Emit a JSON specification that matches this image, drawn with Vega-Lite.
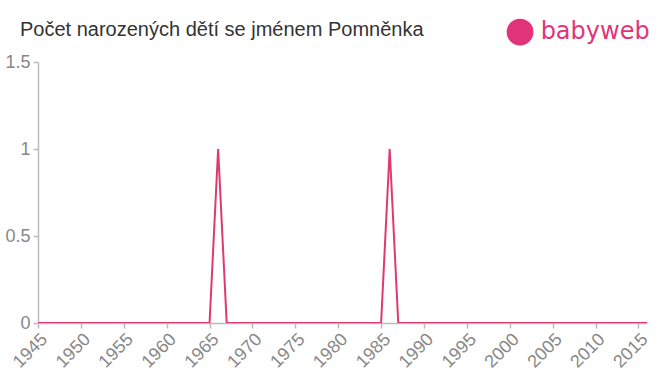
{
  "$schema": "https://vega.github.io/schema/vega-lite/v6.json",
  "width": 609,
  "height": 261,
  "autosize": {"type": "none"},
  "padding": {"left": 38, "top": 62, "right": 13, "bottom": 52},
  "background": "white",
  "config": {
    "view": {"stroke": null},
    "axis": {"labelFontSize": 18, "labelFont": "Liberation Sans", "labelColor": "#888888"}
  },
  "title": {"text": "Počet narozených dětí se jménem Pomněnka", "anchor": "start", "frame": "group", "dx": -18, "dy": 37, "offset": 0, "baseline": "alphabetic", "fontSize": 20, "fontWeight": "normal", "color": "#333333", "font": "Liberation Sans"},
  "datasets": {
    "births": [
      {"year": 1945, "count": 0}, {"year": 1946, "count": 0}, {"year": 1947, "count": 0}, {"year": 1948, "count": 0},
      {"year": 1949, "count": 0}, {"year": 1950, "count": 0}, {"year": 1951, "count": 0}, {"year": 1952, "count": 0},
      {"year": 1953, "count": 0}, {"year": 1954, "count": 0}, {"year": 1955, "count": 0}, {"year": 1956, "count": 0},
      {"year": 1957, "count": 0}, {"year": 1958, "count": 0}, {"year": 1959, "count": 0}, {"year": 1960, "count": 0},
      {"year": 1961, "count": 0}, {"year": 1962, "count": 0}, {"year": 1963, "count": 0}, {"year": 1964, "count": 0},
      {"year": 1965, "count": 0}, {"year": 1966, "count": 1}, {"year": 1967, "count": 0}, {"year": 1968, "count": 0},
      {"year": 1969, "count": 0}, {"year": 1970, "count": 0}, {"year": 1971, "count": 0}, {"year": 1972, "count": 0},
      {"year": 1973, "count": 0}, {"year": 1974, "count": 0}, {"year": 1975, "count": 0}, {"year": 1976, "count": 0},
      {"year": 1977, "count": 0}, {"year": 1978, "count": 0}, {"year": 1979, "count": 0}, {"year": 1980, "count": 0},
      {"year": 1981, "count": 0}, {"year": 1982, "count": 0}, {"year": 1983, "count": 0}, {"year": 1984, "count": 0},
      {"year": 1985, "count": 0}, {"year": 1986, "count": 1}, {"year": 1987, "count": 0}, {"year": 1988, "count": 0},
      {"year": 1989, "count": 0}, {"year": 1990, "count": 0}, {"year": 1991, "count": 0}, {"year": 1992, "count": 0},
      {"year": 1993, "count": 0}, {"year": 1994, "count": 0}, {"year": 1995, "count": 0}, {"year": 1996, "count": 0},
      {"year": 1997, "count": 0}, {"year": 1998, "count": 0}, {"year": 1999, "count": 0}, {"year": 2000, "count": 0},
      {"year": 2001, "count": 0}, {"year": 2002, "count": 0}, {"year": 2003, "count": 0}, {"year": 2004, "count": 0},
      {"year": 2005, "count": 0}, {"year": 2006, "count": 0}, {"year": 2007, "count": 0}, {"year": 2008, "count": 0},
      {"year": 2009, "count": 0}, {"year": 2010, "count": 0}, {"year": 2011, "count": 0}, {"year": 2012, "count": 0},
      {"year": 2013, "count": 0}, {"year": 2014, "count": 0}, {"year": 2015, "count": 0}, {"year": 2016, "count": 0}
    ],
    "logo": [{"year": 2001.2, "v": 1.672, "label": "babyweb", "tx": 2003.6, "tv": 1.63}]
  },
  "layer": [
    {
      "data": {"name": "births"},
      "mark": {"type": "line", "color": "#de3a6e", "strokeWidth": 2, "clip": true},
      "encoding": {
        "x": {"field": "year", "type": "quantitative", "scale": {"domain": [1945, 2016], "nice": false, "zero": false},
          "axis": {"values": [1945, 1950, 1955, 1960, 1965, 1970, 1975, 1980, 1985, 1990, 1995, 2000, 2005, 2010, 2015], "format": "d", "labelAngle": -45, "labelAlign": "right", "labelBaseline": "top", "labelFontSize": 18, "labelFont": "Liberation Sans", "labelColor": "#888888", "domainColor": "#bbbbbb", "tickColor": "#bbbbbb", "domainWidth": 1.5, "tickWidth": 1.5, "tickSize": 5, "grid": false, "title": null}},
        "y": {"field": "count", "type": "quantitative", "scale": {"domain": [0, 1.5], "nice": false},
          "axis": {"values": [0, 0.5, 1, 1.5], "format": "~g", "labelFontSize": 18, "labelFont": "Liberation Sans", "labelColor": "#888888", "labelPadding": 3, "domainColor": "#bbbbbb", "tickColor": "#bbbbbb", "domainWidth": 1.5, "tickWidth": 1.5, "tickSize": 5, "grid": false, "title": null}}
      }
    },
    {
      "data": {"name": "logo"},
      "mark": {"type": "point", "filled": true, "color": "#e0337a", "size": 720, "opacity": 1, "clip": false},
      "encoding": {
        "x": {"field": "year", "type": "quantitative"},
        "y": {"field": "v", "type": "quantitative"}
      }
    },
    {
      "data": {"name": "logo"},
      "mark": {"type": "text", "color": "#e0337a", "fontSize": 24, "font": "DejaVu Sans", "fontWeight": "normal", "align": "left", "baseline": "alphabetic", "clip": false},
      "encoding": {
        "x": {"field": "tx", "type": "quantitative"},
        "y": {"field": "tv", "type": "quantitative"},
        "text": {"field": "label"}
      }
    }
  ]
}
